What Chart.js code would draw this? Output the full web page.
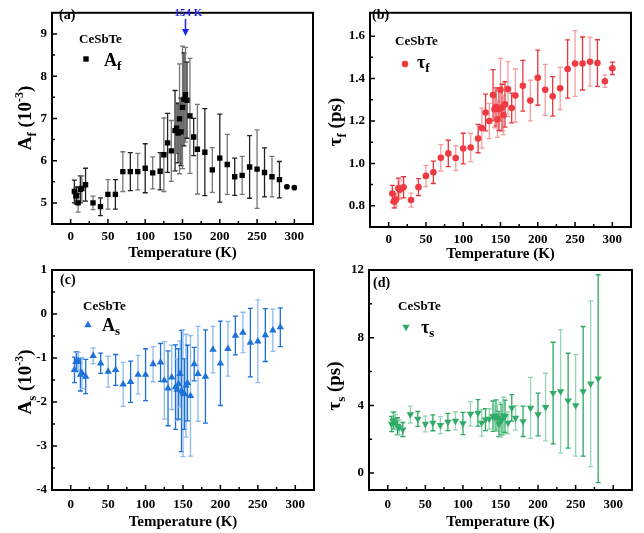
<!DOCTYPE html>
<html>
<head>
<meta charset="utf-8">
<script src="https://cdn.jsdelivr.net/npm/chart.js@4.4.0/dist/chart.umd.min.js"></script>
<style>
html, body { margin: 0; padding: 0; background: #fff; }
#wrap { position: relative; width: 644px; height: 533px; }
#wrap canvas { position: absolute; left: 0; top: 0; }
</style>
</head>
<body>
<div id="wrap">
  <canvas id="chartA" width="644" height="533"></canvas>
  <canvas id="chartB" width="644" height="533"></canvas>
  <canvas id="chartC" width="644" height="533"></canvas>
  <canvas id="chartD" width="644" height="533"></canvas>
</div>
<script>
// temperatures (K)
var temps = [5, 7, 8, 10, 13, 15, 20, 30, 40, 50, 60, 70, 80, 90, 100, 110, 120, 125, 130, 135,
  140, 142, 144, 146, 148, 150, 152, 154, 156, 160, 165, 170, 180, 190, 200, 210, 220, 230,
  240, 250, 260, 270, 280, 290, 300];
var tempsSlow = [5, 7, 8, 10, 13, 15, 20, 30, 40, 50, 60, 70, 80, 90, 100, 110, 120, 125, 130, 135,
  140, 142, 144, 146, 148, 150, 152, 154, 156, 160, 165, 170, 180, 190, 200, 210, 220, 230,
  240, 250, 260, 270, 280];

// (a) A_f (10^-3)
var afValues = [5.27, 5.17, 5.18, 5.00, 5.32, 5.34, 5.43, 5.00, 4.91, 5.20, 5.20, 5.74, 5.74, 5.74, 5.82,
  5.71, 5.75, 6.14, 6.42, 6.23, 6.71, 6.77, 6.65, 6.99, 6.68, 7.26, 7.45, 7.56, 7.43, 7.06, 6.56,
  6.27, 6.20, 5.78, 6.06, 5.91, 5.62, 5.65, 5.85, 5.80, 5.72, 5.62, 5.55, 5.38, 5.36];
var afErrors = [0.27, 0.20, 0.20, 0.22, 0.32, 0.30, 0.39, 0.16, 0.21, 0.35, 0.35, 0.47, 0.45, 0.43, 0.58,
  0.38, 0.44, 0.87, 0.70, 0.72, 0.95, 0.60, 0.70, 1.30, 0.80, 1.45, 1.10, 1.12, 0.90, 1.36, 0.44,
  1.06, 1.03, 0.53, 1.04, 0.71, 0.44, 0.45, 0.74, 0.93, 0.58, 0.48, 0.43, 0.04, 0.03];

// (b) tau_f (ps)
var tauFValues = [0.858, 0.820, 0.820, 0.830, 0.883, 0.876, 0.887, 0.827, 0.888, 0.941, 0.958, 1.026,
  1.047, 1.025, 1.070, 1.075, 1.117, 1.167, 1.240, 1.200, 1.322, 1.255, 1.266, 1.208, 1.255, 1.347,
  1.263, 1.228, 1.278, 1.350, 1.261, 1.320, 1.366, 1.296, 1.404, 1.347, 1.316, 1.354, 1.445, 1.471,
  1.471, 1.479, 1.473, 1.387, 1.448];
var tauFErrors = [0.038, 0.030, 0.030, 0.030, 0.047, 0.045, 0.050, 0.033, 0.040, 0.050, 0.053, 0.062,
  0.062, 0.058, 0.072, 0.067, 0.067, 0.095, 0.087, 0.083, 0.120, 0.087, 0.090, 0.085, 0.100, 0.148,
  0.110, 0.092, 0.107, 0.130, 0.070, 0.125, 0.120, 0.096, 0.130, 0.120, 0.093, 0.100, 0.137, 0.155,
  0.125, 0.115, 0.110, 0.029, 0.029];

// (c) A_s (10^-3)
var asValues = [-1.27, -1.09, -1.08, -1.07, -1.38, -1.34, -1.42, -0.95, -1.12, -1.31, -1.27, -1.60,
  -1.54, -1.38, -1.38, -1.14, -1.10, -1.51, -1.69, -1.44, -1.66, -1.72, -1.59, -1.36, -1.75, -1.80,
  -1.82, -1.63, -1.57, -1.86, -1.14, -1.36, -1.42, -0.81, -1.12, -0.79, -0.49, -0.42, -0.65, -0.62,
  -0.48, -0.37, -0.30];
var asErrors = [0.29, 0.23, 0.22, 0.20, 0.37, 0.35, 0.39, 0.18, 0.23, 0.35, 0.35, 0.50, 0.47, 0.44,
  0.59, 0.40, 0.43, 0.88, 0.85, 0.73, 0.96, 0.70, 0.80, 0.75, 1.38, 1.44, 0.80, 1.17, 0.86, 1.37,
  0.38, 1.08, 1.06, 0.53, 0.96, 0.62, 0.44, 0.46, 0.78, 0.94, 0.60, 0.48, 0.44];

// (d) tau_s (ps)
var tauSValues = [2.90, 3.10, 3.10, 3.00, 2.77, 2.70, 2.57, 3.46, 3.20, 2.90, 2.97, 2.83, 3.02, 3.08,
  2.93, 3.50, 3.56, 2.97, 3.16, 3.20, 3.36, 3.32, 3.40, 3.26, 2.90, 3.16, 3.16, 3.40, 3.36, 2.97,
  3.85, 3.26, 3.06, 3.85, 3.46, 3.90, 4.73, 4.83, 4.28, 4.00, 4.83, 5.28, 5.58];
var tauSErrors = [0.45, 0.50, 0.50, 0.45, 0.50, 0.45, 0.42, 0.50, 0.44, 0.47, 0.47, 0.50, 0.51, 0.53,
  0.66, 0.72, 0.78, 0.79, 0.65, 0.60, 0.90, 0.80, 0.93, 0.80, 0.75, 1.03, 0.90, 1.08, 0.95, 0.65,
  0.78, 0.72, 0.90, 1.80, 1.26, 2.00, 3.00, 3.65, 2.80, 3.00, 3.83, 4.90, 6.14];

// tick labels
var xTicks = [0, 50, 100, 150, 200, 250, 300];
var yTicksA = [5, 6, 7, 8, 9];
var yTicksB = [0.8, 1.0, 1.2, 1.4, 1.6];
var yTicksC = [-4, -3, -2, -1, 0, 1];
var yTicksD = [0, 4, 8, 12];

var W = 644, H = 533;
var SERIF = "'Liberation Serif', 'Times New Roman', serif";

function richWidth(ctx, parts) {
    var w = 0;
    parts.forEach(function (p) {
        ctx.font = 'bold ' + p.s + 'px ' + SERIF;
        w += ctx.measureText(p.t).width;
    });
    return w;
}

function drawRich(ctx, parts, x, y) {
    parts.forEach(function (p) {
        ctx.font = 'bold ' + p.s + 'px ' + SERIF;
        ctx.fillText(p.t, x, y + (p.dy || 0));
        x += ctx.measureText(p.t).width;
    });
}

// vertical error bars, read through the chart scales
var errorBars = {
    id: 'errorBars',
    beforeDatasetsDraw: function (chart, args, opts) {
        var ctx = chart.ctx, xs = chart.scales.x, ys = chart.scales.y;
        ctx.save();
        ctx.lineWidth = 1.3;
        chart.data.datasets[0].data.forEach(function (p, i) {
            var x = xs.getPixelForValue(p.x);
            var lo = ys.getPixelForValue(p.y - p.e);
            var hi = ys.getPixelForValue(p.y + p.e);
            ctx.strokeStyle = i % 2 ? opts.light : opts.dark;
            ctx.beginPath();
            ctx.moveTo(x, lo); ctx.lineTo(x, hi);
            ctx.moveTo(x - 2.5, lo); ctx.lineTo(x + 2.5, lo);
            ctx.moveTo(x - 2.5, hi); ctx.lineTo(x + 2.5, hi);
            ctx.stroke();
        });
        ctx.restore();
    }
};

// frame, inward ticks, labels, legend
var panelDecor = {
    id: 'panelDecor',
    afterDraw: function (chart, args, o) {
        var ctx = chart.ctx, a = chart.chartArea;
        var xs = chart.scales.x, ys = chart.scales.y;
        ctx.save();
        ctx.strokeStyle = '#000';
        ctx.fillStyle = '#000';

        // ticks
        ctx.lineWidth = 1.5;
        ctx.beginPath();
        var xt = o.xTicks;
        xt.forEach(function (v, i) {
            var px = xs.getPixelForValue(v);
            ctx.moveTo(px, a.bottom); ctx.lineTo(px, a.bottom - 5);
            if (i < xt.length - 1) {
                var mx = xs.getPixelForValue((v + xt[i + 1]) / 2);
                ctx.moveTo(mx, a.bottom); ctx.lineTo(mx, a.bottom - 3);
            }
        });
        var yt = o.yTicks;
        yt.forEach(function (v, i) {
            var py = ys.getPixelForValue(v);
            ctx.moveTo(a.left, py); ctx.lineTo(a.left + 5, py);
            if (i < yt.length - 1) {
                var my = ys.getPixelForValue((v + yt[i + 1]) / 2);
                ctx.moveTo(a.left, my); ctx.lineTo(a.left + 3, my);
            }
        });
        ctx.stroke();

        // frame
        ctx.lineWidth = 2;
        ctx.strokeRect(a.left, a.top, a.right - a.left, a.bottom - a.top);

        // panel tag and sample name
        ctx.textBaseline = 'middle';
        ctx.textAlign = 'left';
        ctx.font = 'bold 14px ' + SERIF;
        ctx.fillText(o.tag, o.tagPos[0], o.tagPos[1]);
        ctx.font = 'bold 13px ' + SERIF;
        ctx.fillText('CeSbTe', o.samplePos[0], o.samplePos[1]);

        // legend
        var ds = chart.data.datasets[0];
        ctx.fillStyle = ds.backgroundColor;
        Chart.helpers.drawPoint(ctx, {
            pointStyle: o.legendStyle, radius: o.legendRadius,
            rotation: ds.rotation || 0, borderWidth: 0
        }, o.legendPos[0], o.legendPos[1]);
        ctx.fillStyle = '#000';
        ctx.textBaseline = 'alphabetic';
        drawRich(ctx, o.legendText, o.legendTextPos[0], o.legendTextPos[1]);

        // rotated y title
        ctx.save();
        ctx.translate(o.yTitlePos[0], o.yTitlePos[1]);
        ctx.rotate(-Math.PI / 2);
        drawRich(ctx, o.yTitle, -richWidth(ctx, o.yTitle) / 2, 6);
        ctx.restore();

        // 154 K marker
        if (o.arrowAt) {
            var ax = xs.getPixelForValue(o.arrowAt);
            ctx.strokeStyle = '#1f1fe6';
            ctx.fillStyle = '#1f1fe6';
            ctx.lineWidth = 1.5;
            ctx.beginPath();
            ctx.moveTo(ax, 19); ctx.lineTo(ax, 31);
            ctx.stroke();
            ctx.beginPath();
            ctx.moveTo(ax - 3.5, 29); ctx.lineTo(ax + 3.5, 29); ctx.lineTo(ax, 36);
            ctx.closePath();
            ctx.fill();
            ctx.font = 'bold 11px ' + SERIF;
            ctx.textAlign = 'center';
            ctx.textBaseline = 'middle';
            ctx.fillText(o.arrowAt + ' K', ax + 3, 13);
        }
        ctx.restore();
    }
};

function makePanel(id, p) {
    var points = p.xs.map(function (t, i) {
        return { x: t, y: p.ys[i], e: p.errs[i] };
    });
    var tickFont = { family: SERIF, size: 13, weight: 'bold' };
    p.decor.xTicks = xTicks;
    p.decor.yTicks = p.yTicks;
    return new Chart(document.getElementById(id), {
        type: 'scatter',
        data: {
            datasets: [{
                data: points,
                pointStyle: p.style,
                pointRadius: p.radius,
                pointHoverRadius: p.radius,
                rotation: p.rotation || 0,
                backgroundColor: p.color,
                borderColor: p.color,
                borderWidth: 0
            }]
        },
        options: {
            responsive: false,
            animation: false,
            events: [],
            layout: { padding: { left: 0, top: p.box.t, right: W - p.box.r, bottom: H - p.box.b - p.xh } },
            plugins: {
                legend: { display: false },
                tooltip: { enabled: false },
                errorBars: p.bars,
                panelDecor: p.decor
            },
            scales: {
                x: {
                    type: 'linear', min: -25, max: 325,
                    afterBuildTicks: function (s) { s.ticks = xTicks.map(function (v) { return { value: v }; }); },
                    afterFit: function (s) { s.height = p.xh; },
                    grid: { display: false, drawTicks: false },
                    border: { display: false },
                    ticks: { color: '#000', font: tickFont, padding: p.xPad, maxRotation: 0 },
                    title: {
                        display: true, text: 'Temperature (K)', color: '#000',
                        font: { family: SERIF, size: 15, weight: 'bold' }, padding: 0
                    }
                },
                y: {
                    type: 'linear', min: p.yMin, max: p.yMax,
                    afterBuildTicks: function (s) { s.ticks = p.yTicks.map(function (v) { return { value: v }; }); },
                    afterFit: function (s) { s.width = p.box.l; },
                    grid: { display: false, drawTicks: false },
                    border: { display: false },
                    ticks: {
                        color: '#000', font: tickFont, padding: 5,
                        callback: function (v) { return p.fmt ? p.fmt(v) : v; }
                    }
                }
            }
        },
        plugins: [errorBars, panelDecor]
    });
}

// (a) — the last two points (290 K, 300 K) are round
makePanel('chartA', {
    xs: temps, ys: afValues, errs: afErrors, yTicks: yTicksA, yMin: 4.5, yMax: 9.5,
    box: { l: 52, t: 5, r: 313, b: 224 }, xh: 38, xPad: 5,
    style: afValues.map(function (v, i) { return i < 43 ? 'rect' : 'circle'; }),
    radius: afValues.map(function (v, i) { return i < 43 ? 3.8 : 2.8; }),
    color: '#000',
    bars: { dark: '#222', light: '#777' },
    decor: {
        tag: '(a)', tagPos: [59, 15], samplePos: [79, 40],
        legendStyle: 'rect', legendRadius: 3.8, legendPos: [86, 59],
        legendText: [{ t: 'A', s: 18 }, { t: 'f', s: 13, dy: 4 }], legendTextPos: [104, 66],
        yTitle: [{ t: 'A', s: 19 }, { t: 'f', s: 13, dy: 5 }, { t: ' (10', s: 19 }, { t: '-3', s: 12, dy: -8 }, { t: ')', s: 19 }],
        yTitlePos: [25, 118], arrowAt: 154
    }
});

// (b)
makePanel('chartB', {
    xs: temps, ys: tauFValues, errs: tauFErrors, yTicks: yTicksB, yMin: 0.7, yMax: 1.71,
    box: { l: 370, t: 5, r: 631, b: 227 }, xh: 36, xPad: 5,
    style: 'circle', radius: 3.3, color: '#ee3a40',
    fmt: function (v) { return v.toFixed(1); },
    bars: { dark: '#e6363c', light: '#f49ea1' },
    decor: {
        tag: '(b)', tagPos: [372, 15], samplePos: [395, 42],
        legendStyle: 'circle', legendRadius: 3.3, legendPos: [405, 64],
        legendText: [{ t: 'τ', s: 18 }, { t: 'f', s: 13, dy: 4 }], legendTextPos: [417, 68],
        yTitle: [{ t: 'τ', s: 19 }, { t: 'f', s: 13, dy: 5 }, { t: ' (ps)', s: 19 }],
        yTitlePos: [335, 122]
    }
});

// (c)
makePanel('chartC', {
    xs: tempsSlow, ys: asValues, errs: asErrors, yTicks: yTicksC, yMin: -4, yMax: 1,
    box: { l: 52, t: 270, r: 314, b: 490 }, xh: 41, xPad: 7,
    style: 'triangle', radius: 4.3, color: '#1f72d8',
    bars: { dark: '#1b6fd6', light: '#8cb9ef' },
    decor: {
        tag: '(c)', tagPos: [60, 280], samplePos: [83, 307],
        legendStyle: 'triangle', legendRadius: 4.3, legendPos: [88, 325],
        legendText: [{ t: 'A', s: 18 }, { t: 's', s: 13, dy: 4 }], legendTextPos: [102, 331],
        yTitle: [{ t: 'A', s: 19 }, { t: 's', s: 13, dy: 5 }, { t: ' (10', s: 19 }, { t: '-3', s: 12, dy: -8 }, { t: ')', s: 19 }],
        yTitlePos: [25, 382]
    }
});

// (d)
makePanel('chartD', {
    xs: tempsSlow, ys: tauSValues, errs: tauSErrors, yTicks: yTicksD, yMin: -1, yMax: 12,
    box: { l: 369, t: 270, r: 632, b: 490 }, xh: 41, xPad: 7,
    style: 'triangle', rotation: 180, radius: 4.3, color: '#30ab68',
    bars: { dark: '#2ca862', light: '#95d6b0' },
    decor: {
        tag: '(d)', tagPos: [373, 283], samplePos: [398, 307],
        legendStyle: 'triangle', legendRadius: 4.3, legendPos: [406, 327],
        legendText: [{ t: 'τ', s: 18 }, { t: 's', s: 13, dy: 4 }], legendTextPos: [421, 333],
        yTitle: [{ t: 'τ', s: 19 }, { t: 's', s: 13, dy: 5 }, { t: ' (ps)', s: 19 }],
        yTitlePos: [334, 386]
    }
});
</script>
</body>
</html>
